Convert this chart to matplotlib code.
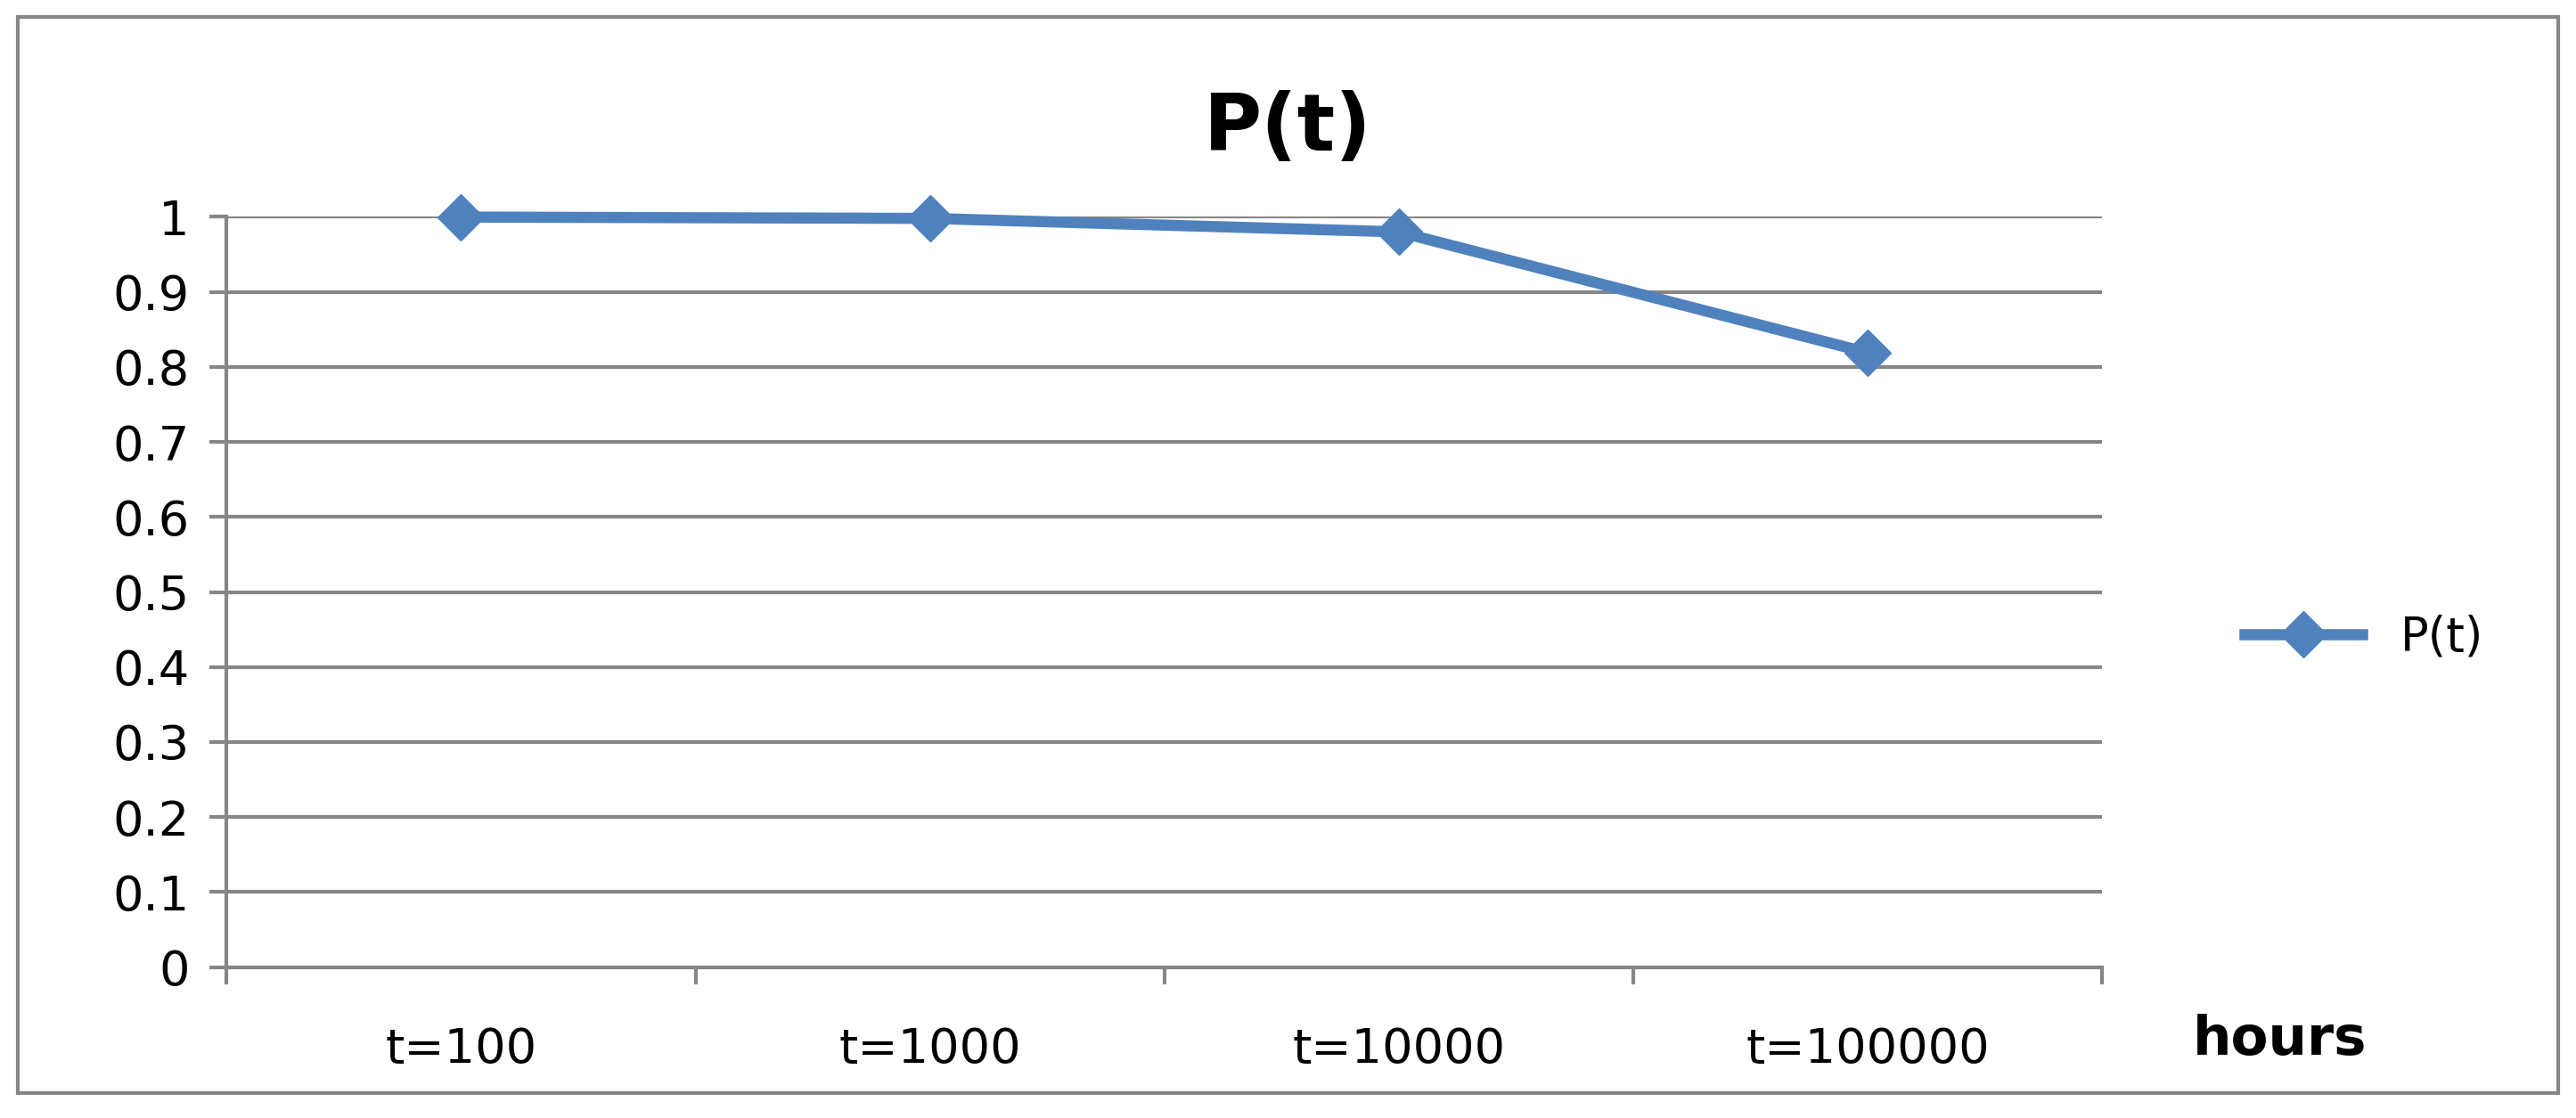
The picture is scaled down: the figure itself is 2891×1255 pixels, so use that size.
import matplotlib
matplotlib.use("Agg")
import matplotlib.pyplot as plt
from matplotlib.patches import Rectangle

categories = ["t=100", "t=1000", "t=10000", "t=100000"]
values = [0.9998, 0.998, 0.980, 0.819]
yticks = [0, 0.1, 0.2, 0.3, 0.4, 0.5, 0.6, 0.7, 0.8, 0.9, 1]

fig = plt.figure(figsize=(28.91, 12.55), dpi=100)
fig.patches.append(Rectangle((0.007, 0.022), 0.986, 0.963, transform=fig.transFigure,
                             fill=False, edgecolor="#868686", linewidth=3))
ax = fig.add_axes([0.088, 0.135, 0.728, 0.671])
blue = "#4F81BD"
x = list(range(len(categories)))
ax.plot(x, values, color=blue, linewidth=9, marker="D", markersize=26, label="P(t)",
        clip_on=False, zorder=5)
ax.set_xlim(-0.5, len(categories) - 0.5)
ax.set_ylim(0, 1)
ax.set_yticks(yticks)
ax.set_yticklabels([f"{v:g}" for v in yticks])
ax.set_xticks(x)
ax.set_xticklabels(categories)
ax.set_xticks([i - 0.5 for i in range(len(categories) + 1)], minor=True)
ax.tick_params(axis="x", which="major", length=0, pad=48, labelsize=39)
ax.tick_params(axis="x", which="minor", length=14, width=3, color="#868686")
ax.tick_params(axis="y", length=14, width=3, color="#868686", labelsize=39, pad=16)
ax.grid(axis="y", color="#868686", linewidth=3)
for s in ["top", "right"]:
    ax.spines[s].set_visible(False)
for s in ["left", "bottom"]:
    ax.spines[s].set_color("#868686")
    ax.spines[s].set_linewidth(3)
ax.set_axisbelow(True)
fig.text(0.5, 0.885, "P(t)", ha="center", va="center", fontsize=64, fontweight="bold")
fig.text(0.885, 0.07, "hours", ha="center", va="center", fontsize=44, fontweight="bold")
fig.legend(loc="center left", bbox_to_anchor=(0.855, 0.43), frameon=False, fontsize=38,
           handlelength=2.5)
fig.savefig("out.png")
